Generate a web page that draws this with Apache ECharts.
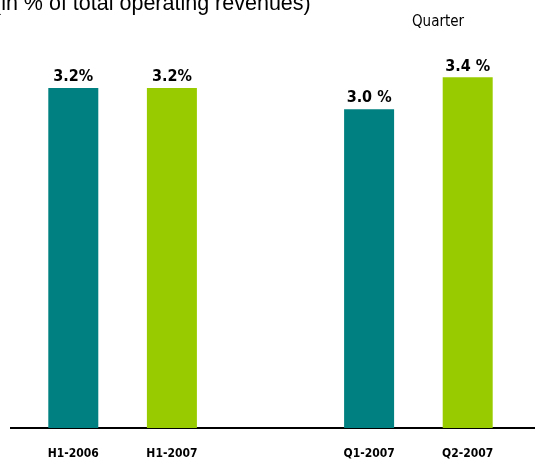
<!DOCTYPE html>
<html>
<head>
    <meta charset="UTF-8">
    <title>Operating revenues share</title>
    <script src="https://cdn.jsdelivr.net/npm/echarts@6/dist/echarts.min.js"></script>
    <style>
        html, body { margin: 0; padding: 0; background: #fff; }
        #chart { width: 535px; height: 463px; }
    </style>
</head>
<body>
<div id="chart"></div>
<script type="text/javascript">
    // categories (empty slot in the middle separates half-year and quarter groups)
    var categories = ['H1-2006', 'H1-2007', '', 'Q1-2007', 'Q2-2007'];
    // bar heights
    var values = [3.2, 3.2, null, 3.0, 3.3];
    // label text shown above each bar
    var labels = ['3.2%', '3.2%', '', '3.0 %', '3.4 %'];
    var colors = ['#008080', '#99cc00', '#ffffff', '#008080', '#99cc00'];

    var narrow = '"DejaVu Sans Condensed", "Liberation Sans Narrow", sans-serif';

    var chart = echarts.init(document.getElementById('chart'));

    var data = [];
    for (var i = 0; i < values.length; i++) {
        data.push({
            value: values[i],
            itemStyle: { color: colors[i] },
            label: { formatter: labels[i] }
        });
    }

    var option = {
        animation: false,
        title: {
            text: '(in % of total operating revenues)',
            left: -11,
            top: -12,
            textStyle: {
                fontFamily: '"Liberation Sans", Arial, sans-serif',
                fontSize: 21.5,
                fontWeight: 'normal',
                color: '#000'
            }
        },
        graphic: [
            {
                type: 'text',
                left: 412,
                top: 15,
                style: {
                    text: 'Quarter',
                    font: '15px ' + narrow,
                    fill: '#000'
                }
            },
            {
                type: 'line',
                shape: { x1: 10, y1: 428, x2: 535, y2: 428 },
                style: { stroke: '#000', lineWidth: 2 }
            }
        ],
        grid: {
            left: 24,
            right: 18,
            top: 0,
            bottom: 35
        },
        xAxis: {
            type: 'category',
            data: categories,
            axisLine: { show: false },
            axisTick: { show: false },
            axisLabel: {
                margin: 20,
                fontFamily: narrow,
                fontWeight: 'bold',
                fontSize: 12,
                color: '#000'
            }
        },
        yAxis: {
            type: 'value',
            min: 0,
            max: 4.028,
            show: false,
            splitLine: { show: false }
        },
        series: [
            {
                type: 'bar',
                data: data,
                barWidth: 50,
                label: {
                    show: true,
                    position: 'top',
                    distance: 3,
                    fontFamily: narrow,
                    fontWeight: 'bold',
                    fontSize: 16,
                    color: '#000'
                }
            }
        ]
    };

    chart.setOption(option);
</script>
</body>
</html>
